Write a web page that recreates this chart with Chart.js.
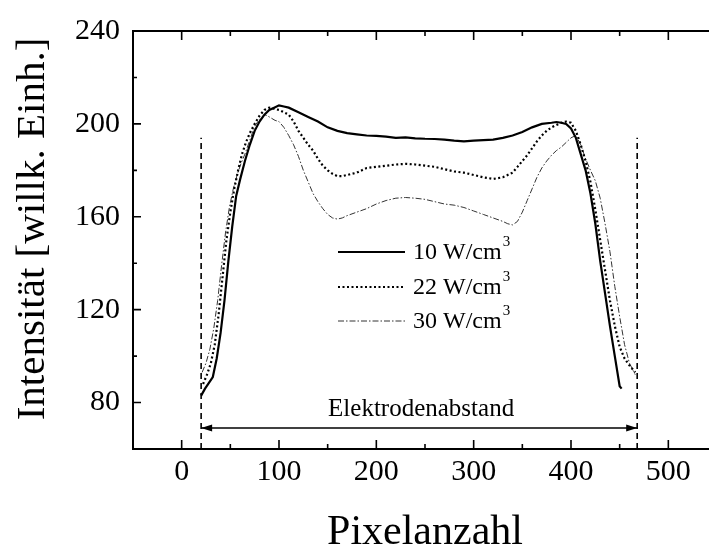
<!DOCTYPE html>
<html>
<head>
<meta charset="utf-8">
<script src="https://cdn.jsdelivr.net/npm/chart.js@4.4.0/dist/chart.umd.min.js"></script>
<style>
html,body{margin:0;padding:0;background:#fff;overflow:hidden;}
#wrap{width:720px;height:550px;}
</style>
</head>
<body>
<div id="wrap"><canvas id="c" width="720" height="550"></canvas></div>
<script>
// ---- data ----
const xTicks = [0,100,200,300,400,500];
const xMinorTicks = [50,150,250,350,450];
const yTicks = [80,120,160,200,240];
const yMinorTicks = [100,140,180,220];

const seriesNames = ['10 W/cm', '22 W/cm', '30 W/cm'];

const x10 = [20,24,28,32,36,40,44,48,52,56,60,65,70,75,80,85,90,95,100,105,110,120,130,140,150,160,170,180,190,200,210,220,230,240,250,260,270,280,290,300,310,320,330,340,350,360,370,380,385,390,395,400,405,410,415,420,425,430,435,440,445,450,452];
const y10 = [83,86,88.5,91,99,110,124,141,156,169,176,184,191,197,201,204,206,207,208,207.5,207,205,203,201,198.5,197,196,195.5,195,194.8,194.5,194,194.2,193.8,193.6,193.5,193.2,192.8,192.5,192.8,193,193.2,194,195,196.5,198.5,200,200.5,200.8,200.5,200,198,194,187,180,170,157,141,127,113,100,87,86];

const x22 = [22,26,30,34,38,42,46,50,54,58,62,66,70,75,80,85,90,95,100,105,110,115,120,125,130,135,140,145,150,155,160,165,170,180,190,200,210,220,230,240,250,260,270,280,290,300,310,320,330,340,345,350,355,360,365,370,375,380,385,390,395,400,405,410,415,420,425,430,435,440,445,450,455,460,466];
const y22 = [88,92,97,105,118,134,150,162,172,180,187,192,196,200,203.5,206,207,206.5,206,205,204,201,197,194,191,188.5,185,182,180,178.5,177.5,177.5,178,179,181,181.5,182,182.5,182.8,182.5,182,181.5,180.5,179.5,179,178,177,176.3,177,179,181.5,184,186.5,189.5,192.5,195,197,198.5,199.5,200.5,201,200.5,197,191,184,175,163,150,137,124,113,104,99,96,93];

const x30 = [21,25,29,33,37,41,45,49,53,57,61,65,70,75,80,85,88,92,96,100,105,110,115,120,125,130,135,140,145,150,155,160,165,170,180,190,200,210,220,230,240,250,260,270,280,290,300,310,320,330,335,340,345,350,355,360,365,370,375,380,385,390,395,400,405,410,415,420,425,430,435,440,445,450,455,460,466];
const y30 = [93,97,103,112,124,139,153,164,172,178,183,187,193,199,202,204,203.5,202.5,201.5,201,198.5,195,191,186,180,175,170,166.5,163.5,161,159.5,159,159.5,160.5,162,163.5,165.5,167,168,168.3,168,167.5,166.5,165.5,165,164,162.5,161,159.5,158,157,156.5,158,162,167,172,177,181,184,186.5,188.5,190,192,194,195,191,185,180,175.5,168,157,145,130,117,105,97,92];

const electrodeX = [20, 468];
const electrodeTopY = 194;
const arrowY = 69;
const annotText = 'Elektrodenabstand';
const annotPos = [246, 77];

// ---- helpers ----
const pts = (xs, ys) => xs.map((x, i) => ({x: x, y: ys[i]}));
const FONT = '"Liberation Serif", "Times New Roman", serif';

const styles = [
  {borderColor:'#000', borderWidth:2.2, borderDash:[]},
  {borderColor:'#000', borderWidth:2.2, borderDash:[2,2.5]},
  {borderColor:'#333', borderWidth:1, borderDash:[6,2,1.5,2]}
];

const datasets = [
  Object.assign({label: seriesNames[0], data: pts(x10, y10)}, styles[0]),
  Object.assign({label: seriesNames[1], data: pts(x22, y22)}, styles[1]),
  Object.assign({label: seriesNames[2], data: pts(x30, y30)}, styles[2]),
  {label:'eL', data: pts([electrodeX[0], electrodeX[0]], [60, electrodeTopY]), borderColor:'#000', borderWidth:1.6, borderDash:[6,4]},
  {label:'eR', data: pts([electrodeX[1], electrodeX[1]], [60, electrodeTopY]), borderColor:'#000', borderWidth:1.6, borderDash:[6,4]},
  {label:'arrow', data: pts(electrodeX, [arrowY, arrowY]), borderColor:'#000', borderWidth:1.5, borderDash:[]}
];

const decor = {
  id: 'decor',
  afterDraw(chart) {
    const ctx = chart.ctx;
    const xs = chart.scales.x, ys = chart.scales.y;
    const L = xs.left, R = xs.right, T = ys.top, B = ys.bottom;
    ctx.save();
    ctx.strokeStyle = '#000';
    ctx.fillStyle = '#000';
    // frame
    ctx.lineWidth = 2;
    ctx.beginPath();
    ctx.moveTo(L, B); ctx.lineTo(R, B); ctx.lineTo(R, T); ctx.lineTo(L, T); ctx.closePath();
    ctx.stroke();
    // ticks
    ctx.lineWidth = 1.6;
    ctx.beginPath();
    xTicks.forEach(v => { const p = xs.getPixelForValue(v); ctx.moveTo(p, B); ctx.lineTo(p, B-9); ctx.moveTo(p, T); ctx.lineTo(p, T+9); });
    xMinorTicks.forEach(v => { const p = xs.getPixelForValue(v); ctx.moveTo(p, B); ctx.lineTo(p, B-5); ctx.moveTo(p, T); ctx.lineTo(p, T+5); });
    yTicks.forEach(v => { const p = ys.getPixelForValue(v); ctx.moveTo(L, p); ctx.lineTo(L+8, p); ctx.moveTo(R, p); ctx.lineTo(R-8, p); });
    yMinorTicks.forEach(v => { const p = ys.getPixelForValue(v); ctx.moveTo(L, p); ctx.lineTo(L+4, p); ctx.moveTo(R, p); ctx.lineTo(R-4, p); });
    ctx.stroke();
    // arrow heads
    const ay = ys.getPixelForValue(arrowY);
    const a0 = xs.getPixelForValue(electrodeX[0]), a1 = xs.getPixelForValue(electrodeX[1]);
    ctx.beginPath();
    ctx.moveTo(a0, ay); ctx.lineTo(a0+11, ay-3.5); ctx.lineTo(a0+11, ay+3.5); ctx.closePath();
    ctx.moveTo(a1, ay); ctx.lineTo(a1-11, ay-3.5); ctx.lineTo(a1-11, ay+3.5); ctx.closePath();
    ctx.fill();
    // annotation text
    ctx.font = '25px ' + FONT;
    ctx.textAlign = 'center';
    ctx.textBaseline = 'middle';
    ctx.fillText(annotText, xs.getPixelForValue(annotPos[0]), ys.getPixelForValue(annotPos[1]));
    // legend
    const legY = [252, 287, 321];
    for (let i = 0; i < 3; i++) {
      const s = styles[i];
      ctx.strokeStyle = s.borderColor;
      ctx.lineWidth = s.borderWidth;
      ctx.setLineDash(s.borderDash);
      ctx.beginPath(); ctx.moveTo(338, legY[i]); ctx.lineTo(405, legY[i]); ctx.stroke();
      ctx.setLineDash([]);
      ctx.fillStyle = '#000';
      ctx.textAlign = 'left';
      ctx.textBaseline = 'middle';
      ctx.font = '24px ' + FONT;
      ctx.fillText(seriesNames[i], 413, legY[i] + 1);
      const w = ctx.measureText(seriesNames[i]).width;
      ctx.font = '15px ' + FONT;
      ctx.fillText('3', 413 + w + 1, legY[i] - 10);
    }
    // y title
    ctx.font = '41px ' + FONT;
    ctx.textAlign = 'center';
    ctx.textBaseline = 'middle';
    ctx.translate(33, 229);
    ctx.rotate(-Math.PI/2);
    ctx.fillText('Intensität [willk. Einh.]', 0, 0);
    ctx.restore();
  }
};

new Chart(document.getElementById('c'), {
  type: 'line',
  data: {datasets: datasets},
  options: {
    responsive: false,
    animation: false,
    devicePixelRatio: 1,
    layout: {padding: {left: 0, top: 26, right: 3, bottom: 0}},
    plugins: {legend: {display: false}, tooltip: {enabled: false}},
    elements: {point: {radius: 0}, line: {tension: 0}},
    scales: {
      x: {
        type: 'linear', min: -50, max: 550,
        afterBuildTicks: s => { s.ticks = xTicks.map(v => ({value: v})); },
        afterFit: s => { s.height = 101; },
        grid: {display: false, drawTicks: false},
        border: {display: false},
        ticks: {color: '#000', font: {family: FONT, size: 30}, padding: 5, maxRotation: 0},
        title: {display: true, text: 'Pixelanzahl', color: '#000', font: {family: FONT, size: 42, lineHeight: 0.7}, padding: {top: 0, bottom: 2}}
      },
      y: {
        type: 'linear', min: 60, max: 240,
        afterBuildTicks: s => { s.ticks = yTicks.map(v => ({value: v})); },
        afterFit: s => { s.width = 133; },
        grid: {display: false, drawTicks: false},
        border: {display: false},
        ticks: {color: '#000', font: {family: FONT, size: 30}, padding: 13}
      }
    }
  },
  plugins: [decor]
});
</script>
</body>
</html>
